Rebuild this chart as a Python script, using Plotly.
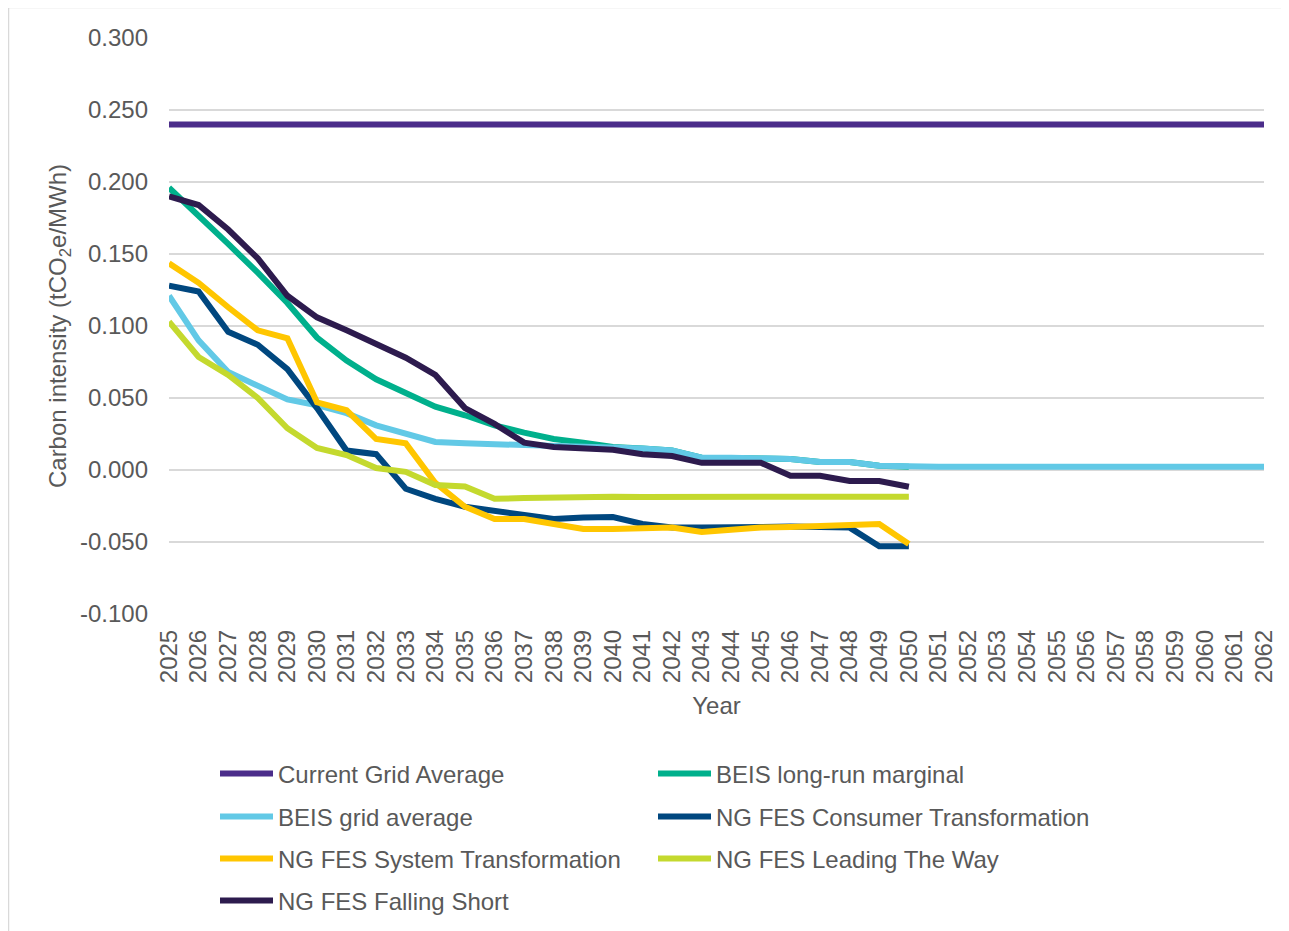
import plotly.graph_objects as go

years = [str(y) for y in range(2025, 2063)]

current_grid_average = [0.240] * 38

beis_long_run_marginal = [0.196, 0.177, 0.157, 0.137, 0.116, 0.092, 0.076, 0.063, 0.053, 0.044,
                          0.038, 0.031, 0.026, 0.0215, 0.019, 0.016, 0.015, 0.0135, 0.0085, 0.0085,
                          0.0077, 0.0077, 0.0055, 0.0055, 0.003, 0.0023]

beis_grid_average = [0.121, 0.090, 0.068, 0.058, 0.049, 0.045, 0.0395, 0.031, 0.025, 0.0195,
                     0.0185, 0.018, 0.0177, 0.0172, 0.0168, 0.016, 0.015, 0.0135, 0.0085, 0.0085,
                     0.0077, 0.0077, 0.0055, 0.0055, 0.003, 0.0023,
                     0.0023, 0.0023, 0.0023, 0.0023, 0.0023, 0.0023, 0.0023, 0.0023, 0.0023, 0.0023,
                     0.0023, 0.0023]

ng_consumer_transformation = [0.128, 0.124, 0.096, 0.087, 0.070, 0.043, 0.0135, 0.011, -0.013, -0.020,
                              -0.0255, -0.0285, -0.031, -0.034, -0.033, -0.0327, -0.0375, -0.040, -0.040, -0.0395,
                              -0.039, -0.0393, -0.0396, -0.040, -0.053, -0.053]

ng_system_transformation = [0.1435, 0.130, 0.113, 0.097, 0.0915, 0.047, 0.0415, 0.0215, 0.0185, -0.009,
                            -0.0255, -0.034, -0.034, -0.037, -0.041, -0.041, -0.0405, -0.040, -0.043, -0.0415,
                            -0.040, -0.0396, -0.0387, -0.0377, -0.0375, -0.0514]

ng_leading_the_way = [0.103, 0.0785, 0.066, 0.050, 0.029, 0.0153, 0.0104, 0.0014, -0.0013, -0.0104,
                      -0.0115, -0.020, -0.0195, -0.019, -0.0185, -0.0185, -0.0187, -0.0188, -0.0187, -0.0186,
                      -0.0185, -0.0185, -0.0185, -0.0185, -0.0185, -0.0185]

ng_falling_short = [0.190, 0.184, 0.167, 0.147, 0.121, 0.106, 0.097, 0.087, 0.078, 0.066,
                    0.043, 0.032, 0.019, 0.016, 0.015, 0.014, 0.011, 0.0097, 0.005, 0.005,
                    0.005, -0.004, -0.004, -0.0076, -0.0076, -0.0116]

y_tick_vals = [-0.1, -0.05, 0.0, 0.05, 0.1, 0.15, 0.2, 0.25, 0.3]
y_tick_text = ["-0.100", "-0.050", "0.000", "0.050", "0.100", "0.150", "0.200", "0.250", "0.300"]

FONT = "Liberation Sans, Arial, sans-serif"
GREY = "#595959"

series = [
    ("Current Grid Average", current_grid_average, "#4B2D8A", "legend"),
    ("BEIS long-run marginal", beis_long_run_marginal, "#00B08C", "legend"),
    ("BEIS grid average", beis_grid_average, "#62C9E6", "legend2"),
    ("NG FES Consumer Transformation", ng_consumer_transformation, "#00477F", "legend2"),
    ("NG FES System Transformation", ng_system_transformation, "#FFC600", "legend3"),
    ("NG FES Leading The Way", ng_leading_the_way, "#C4D92E", "legend3"),
    ("NG FES Falling Short", ng_falling_short, "#2D1B4E", "legend4"),
]

fig = go.Figure()
for name, vals, color, lg in series:
    fig.add_trace(go.Scatter(
        x=years[:len(vals)], y=vals, name=name, mode="lines",
        line=dict(color=color, width=6), legend=lg,
    ))

# The page adds an 8px body margin; work in figure coordinates (page - 8).
OFF = 8
W, H = 1281, 923
L, R, T, B = 169 - OFF, 1264 - OFF, 38 - OFF, 614 - OFF
pw, ph = R - L, B - T

def px_to_paper_x(page_px):
    return (page_px - OFF - L) / pw

def px_to_paper_y(page_py):
    return (B - (page_py - OFF)) / ph

legend_common = dict(
    orientation="h", entrywidth=370, entrywidthmode="pixels",
    itemwidth=53,
    xanchor="left", yanchor="middle", bgcolor="rgba(0,0,0,0)",
    font=dict(family=FONT, size=24, color=GREY), traceorder="normal",
    x=px_to_paper_x(215),
)

fig.update_layout(
    width=W, height=H,
    margin=dict(l=L, r=W - R, t=T, b=H - B, autoexpand=False),
    paper_bgcolor="white", plot_bgcolor="white",
    font=dict(family=FONT, size=24, color=GREY),
    showlegend=True,
    legend=dict(**legend_common, y=px_to_paper_y(774)),
    legend2=dict(**legend_common, y=px_to_paper_y(817)),
    legend3=dict(**legend_common, y=px_to_paper_y(859)),
    legend4=dict(**legend_common, y=px_to_paper_y(901)),
    xaxis=dict(
        type="category", tickangle=-90, showgrid=False, zeroline=False,
        showline=False, ticks="", ticklabelstandoff=10, automargin=False,
        tickfont=dict(family=FONT, size=24, color=GREY),
        title=dict(text="Year", font=dict(family=FONT, size=24, color=GREY), standoff=15),
    ),
    yaxis=dict(
        range=[-0.1, 0.3], tickvals=y_tick_vals, ticktext=y_tick_text,
        showgrid=True, gridcolor="#D9D9D9", gridwidth=2, zeroline=False,
        showline=False, ticks="", ticklabelstandoff=20, automargin=False,
        tickfont=dict(family=FONT, size=24, color=GREY),
        title=dict(text="Carbon intensity (tCO<sub>2</sub>e/MWh)",
                   font=dict(family=FONT, size=24, color=GREY), standoff=6),
    ),
    shapes=[dict(
        type="rect", xref="paper", yref="paper",
        x0=px_to_paper_x(8.5), x1=1.3, y0=-0.8, y1=px_to_paper_y(7.5),
        line=dict(color="#D9D9D9", width=1.5), fillcolor="rgba(0,0,0,0)", layer="below",
    )],
)

fig.write_html("out.html")
